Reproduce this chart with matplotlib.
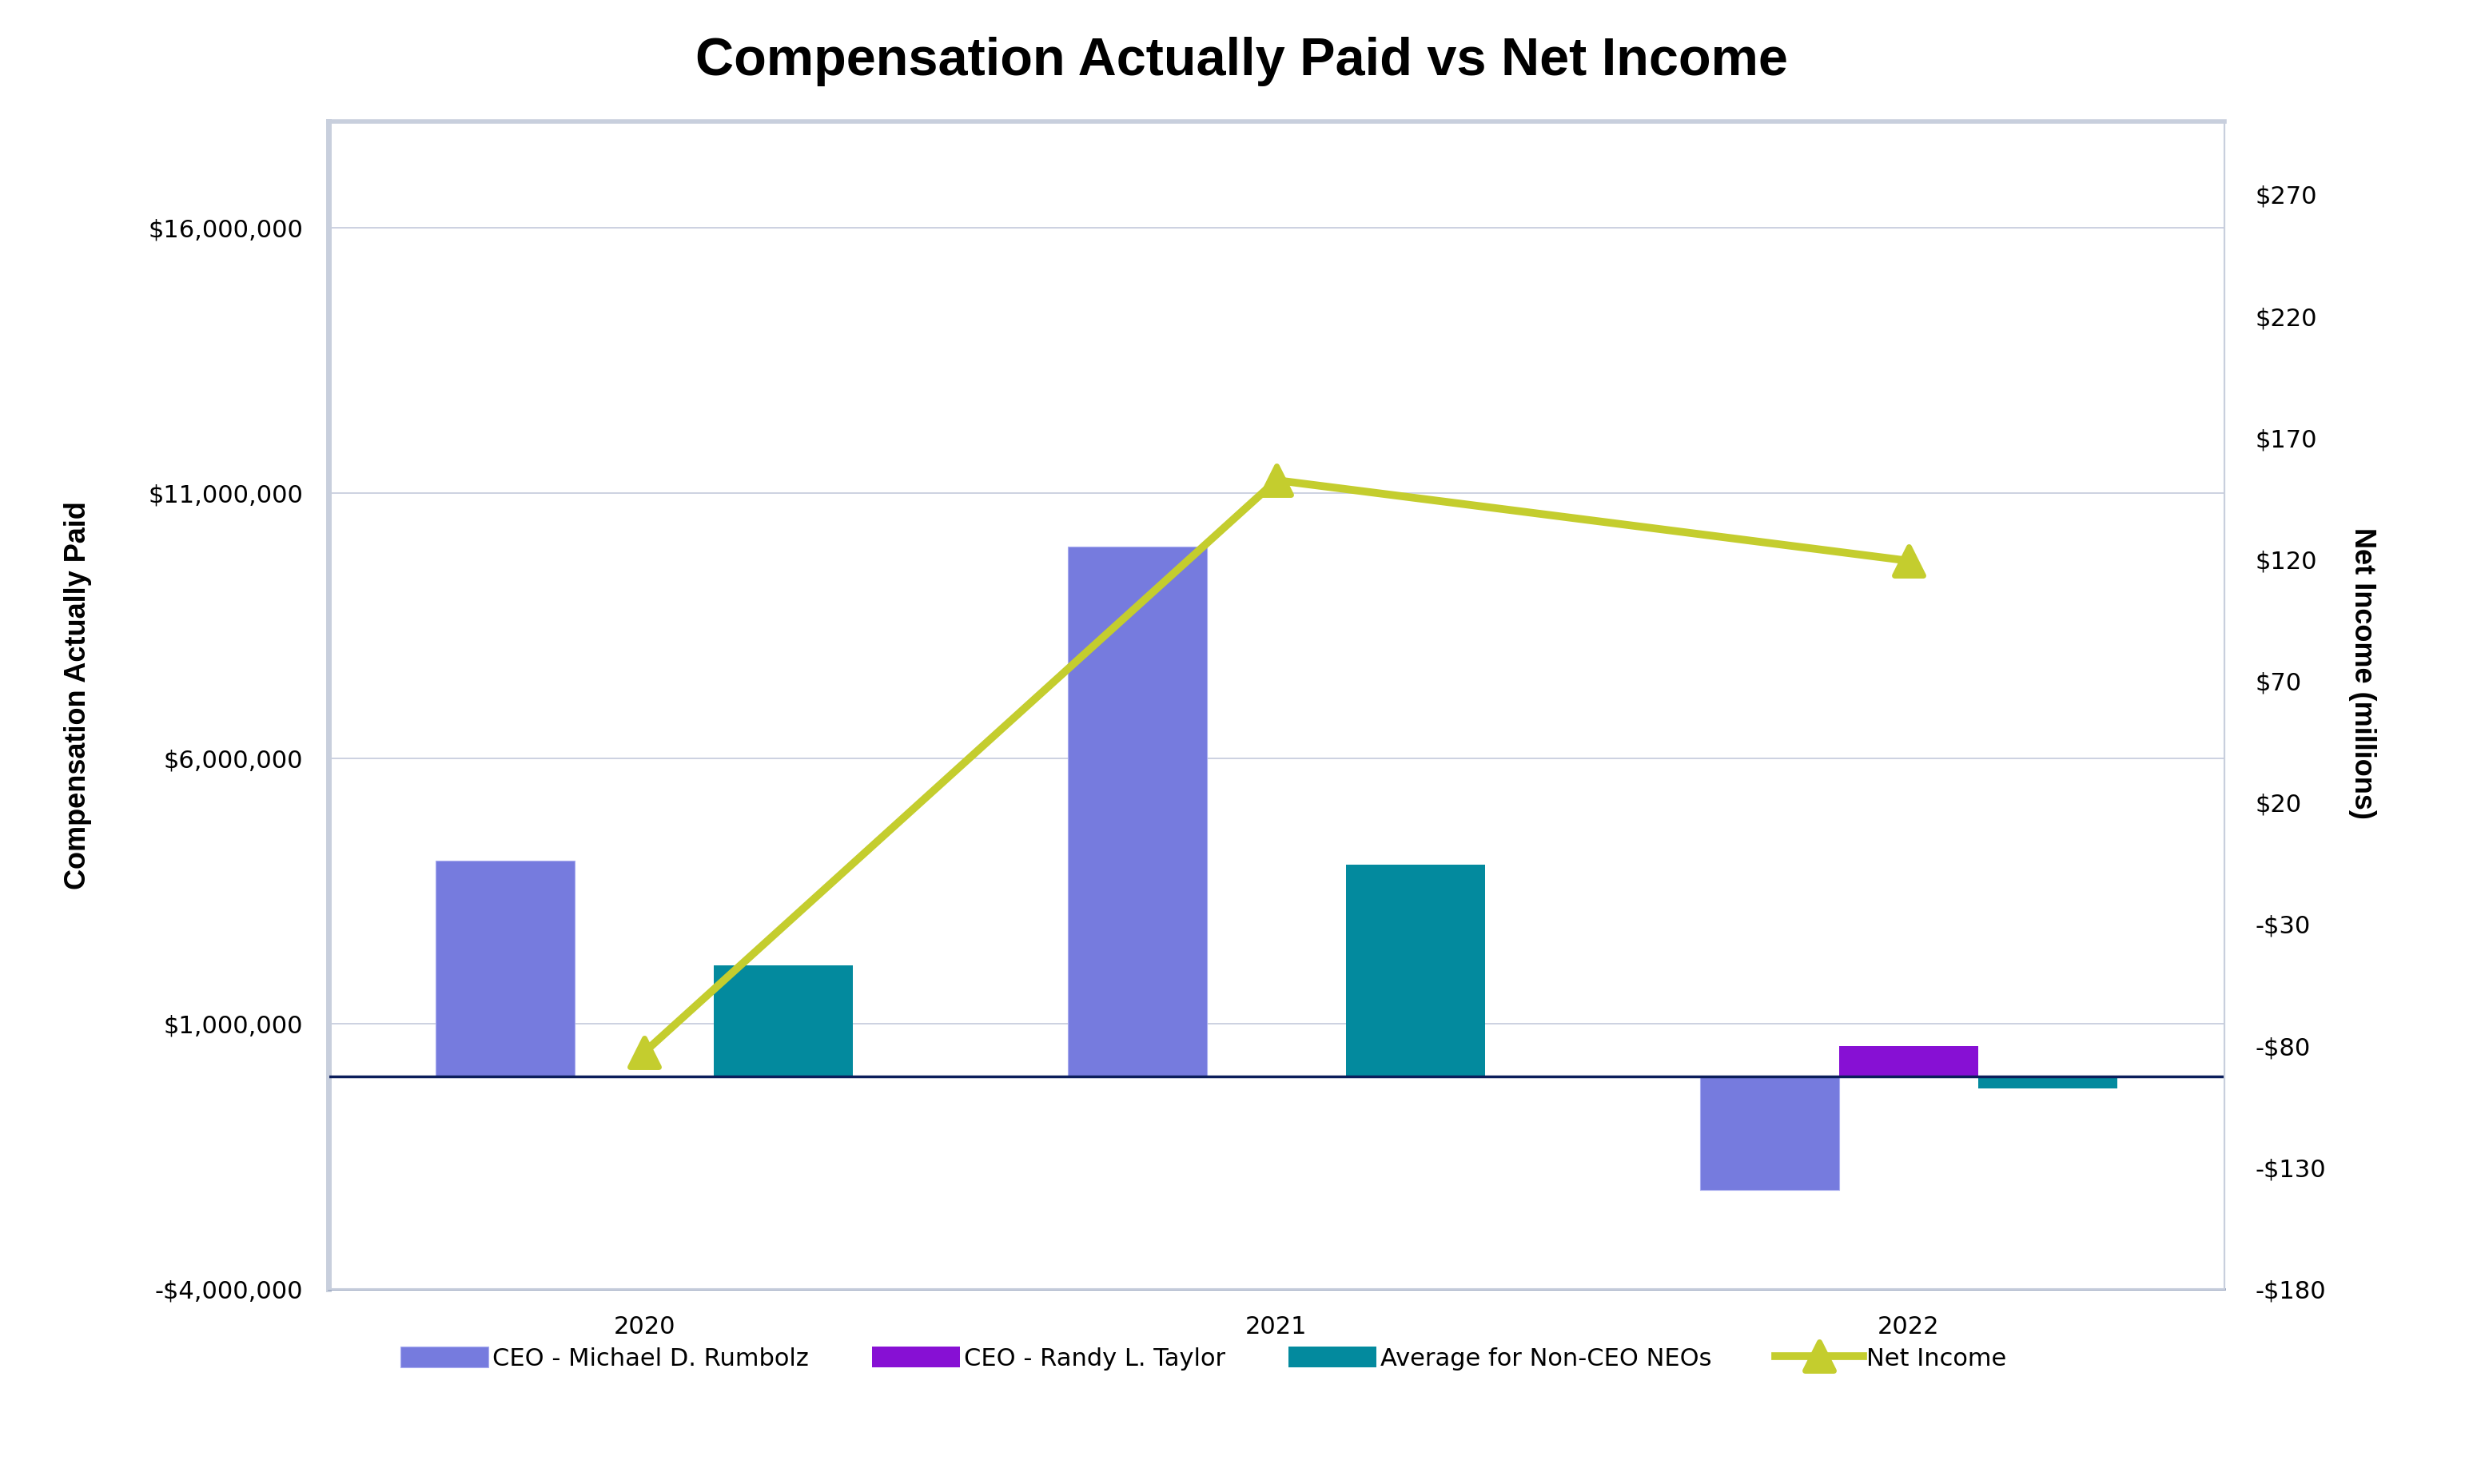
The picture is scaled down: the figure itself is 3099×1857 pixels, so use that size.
import matplotlib
matplotlib.use("Agg")
import matplotlib.pyplot as plt
from matplotlib.markers import MarkerStyle
from matplotlib.ticker import FuncFormatter
import numpy as np

# data
years = ["2020", "2021", "2022"]
ceo_rumbolz = [4070000, 9990000, -2130000]
ceo_taylor = [0, 0, 580000]
non_ceo_avg = [2100000, 4000000, -220000]
net_income = [-82.6, 152.5, 119.4]

left_ticks = [-4000000, 1000000, 6000000, 11000000, 16000000]
right_ticks = [-180, -130, -80, -30, 20, 70, 120, 170, 220, 270]

c_rumbolz = "#767BDE"
c_taylor = "#8710D4"
c_nonceo = "#038A9E"
c_net = "#C4CD2E"

W, H = 3099, 1857
fig = plt.figure(figsize=(W / 100, H / 100), dpi=100)
ax = fig.add_axes([411 / W, 1 - 1613 / H, (2783 - 411) / W, (1613 - 152) / H])
ax2 = ax.twinx()

x = np.arange(len(years))
bw = 0.22
b1 = ax.bar(x - bw, ceo_rumbolz, bw, color=c_rumbolz, edgecolor="#A9ADF0", linewidth=0.8,
            label="CEO - Michael D. Rumbolz", zorder=3)
# Taylor only has a value in 2022
b2 = ax.bar(x[2:], ceo_taylor[2:], bw, color=c_taylor, label="CEO - Randy L. Taylor", zorder=3)
b3 = ax.bar(x + bw, non_ceo_avg, bw, color=c_nonceo, label="Average for Non-CEO NEOs", zorder=3)

ax.axhline(0, color="#0B1E5B", linewidth=2.5, zorder=4)

ax.set_xlim(-0.5, 2.5)
ax.set_ylim(-4000000, 18000000)
ax.set_yticks(left_ticks)
ax.yaxis.set_major_formatter(FuncFormatter(lambda v, p: ("-$" if v < 0 else "$") + f"{abs(int(v)):,}"))
ax.grid(axis="y", color="#C3CADB", linewidth=1.2, zorder=0)
ax.set_axisbelow(True)
ax.set_xticks(x)
ax.set_xticklabels(years)

ax2.set_ylim(-180, 300)
ax2.set_yticks(right_ticks)
ax2.yaxis.set_major_formatter(FuncFormatter(lambda v, p: ("-$" if v < 0 else "$") + f"{abs(int(v))}"))

mk = MarkerStyle("^", joinstyle="round")
ln, = ax2.plot(x, net_income, color=c_net, linewidth=7, marker=mk, markersize=26,
               markeredgewidth=5, markeredgecolor=c_net, label="Net Income", zorder=5,
               solid_joinstyle="round")

for a in (ax, ax2):
    a.tick_params(length=0, labelsize=22)
    for s in a.spines.values():
        s.set_color("#C8CFDD")
        s.set_linewidth(1.5)
ax.spines["left"].set_linewidth(5)
ax.spines["top"].set_linewidth(4)
ax.spines["bottom"].set_color("#8A99B5")
ax.spines["bottom"].set_linewidth(2)
ax.tick_params(axis="x", pad=24)
ax.tick_params(axis="y", pad=23)
ax2.tick_params(axis="y", pad=28)

lab_font = dict(fontsize=26, fontweight="bold", family=["Liberation Sans", "DejaVu Sans"])
ax.set_ylabel("Compensation Actually Paid", **lab_font)
ax.yaxis.set_label_coords((115 - 411) / (2783 - 411), (1613 - 870) / (1613 - 152))
ax2.set_ylabel("Net Income (millions)", rotation=270, va="center", **lab_font)
ax2.yaxis.set_label_coords((2955 - 411) / (2783 - 411), (1613 - 842) / (1613 - 152))

fig.text(786 / 1568, 1 - 77 / H, "Compensation Actually Paid vs Net Income",
         ha="center", va="center", fontsize=48, fontweight="bold",
         family=["Liberation Sans", "DejaVu Sans"])

fig.legend(handles=[b1, b2, b3, ln], loc="center", ncol=4, frameon=False,
           bbox_to_anchor=(762 / 1568, 1 - 1700 / H), fontsize=22,
           handlelength=3.6, handleheight=0.9, columnspacing=2.6, handletextpad=0.15)

fig.savefig("out.png", dpi=100, facecolor="white")
